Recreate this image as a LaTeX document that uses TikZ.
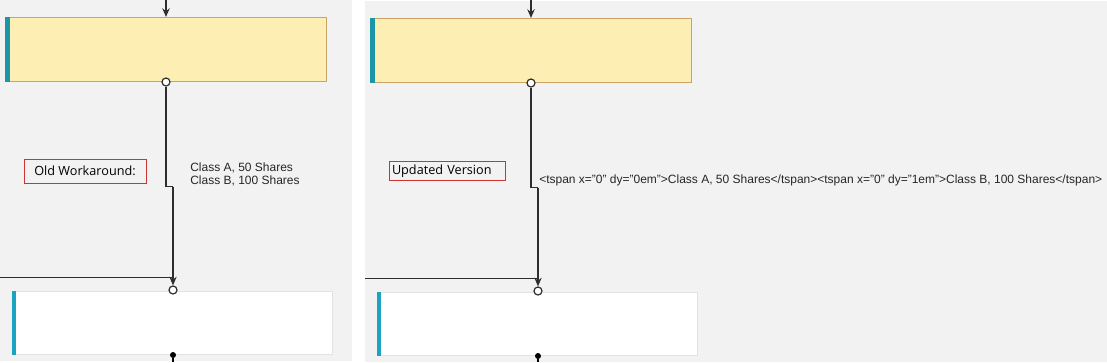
\documentclass[tikz,border=0pt]{standalone}
\usepackage{fontspec}
\setmainfont{Liberation Sans}
\newfontfamily\uifont{Open Sans}
\usetikzlibrary{arrows.meta}
\definecolor{bg}{HTML}{F2F2F2}
\definecolor{yfill}{HTML}{FDEFB4}
\definecolor{ybord}{HTML}{C9A464}
\definecolor{tealA}{HTML}{1A96A6}
\definecolor{tealB}{HTML}{1BA3C2}
\definecolor{wbord}{HTML}{E2E2E2}
\definecolor{lnc}{HTML}{2E2E2E}
\definecolor{redb}{HTML}{CC3333}
\tikzset{
  panel/.style={fill=bg, draw=none},
  ybox/.style={draw=ybord, fill=yfill, line width=0.75pt, minimum width={321*0.75pt}, minimum height={64*0.75pt}, inner sep=0pt},
  wbox/.style={draw=wbord, fill=white, line width=0.75pt, minimum width={320*0.75pt}, minimum height={63*0.75pt}, inner sep=0pt},
  port/.style={circle, draw=lnc, fill=white, line width=0.9pt, minimum size={8*0.75pt}, inner sep=0pt},
  conn/.style={draw=lnc, line width=1.3pt},
  arr/.style={conn, -{Stealth[length=6.5pt,width=5.5pt]}},
  note/.style={draw=redb, line width=0.75pt, fill=bg, inner sep=0pt, font=\uifont\fontsize{9.5}{11}\selectfont},
  lbl/.style={font=\fontsize{9}{9.2}\selectfont, inner sep=0pt, align=left, anchor=north west, text=black!85}
}
\begin{document}
\begin{tikzpicture}[x=0.75pt,y=-0.75pt]
\useasboundingbox (0,0) rectangle (1107,362);
\fill[white] (0,0) rectangle (1107,362);
% panels
\fill[panel] (0,0) rectangle (352,361);
\fill[panel] (365,1) rectangle (1107,362);

% ---------- left panel ----------
\node[ybox] (yl) at (165.5,49.5) {};
\fill[tealA] (yl.north west) rectangle ([xshift=3.75pt]yl.south west);
\node[wbox] (wl) at (172,322.5) {};
\fill[tealB] (wl.north west) rectangle ([xshift=3.5pt]wl.south west);
\coordinate (tl) at (166,0);
\draw[arr] (tl) -- (yl.north -| tl);
\node[port] (pl1) at (166,82) {};
\node[port] (pl2) at (173,290) {};
\coordinate (kl1) at (166,186.5);
\coordinate (kl2) at (173,186.5);
\draw[conn] (pl1.south) -- (kl1) -- (kl2);
\draw[arr] (kl2) -- (pl2.north);
\coordinate (hl) at (0,277.5);
\draw[conn] (hl) -- (hl -| kl2);
\node[circle, fill=black, minimum size={6*0.75pt}, inner sep=0pt] (dl) at (173,355) {};
\coordinate (dlb) at (173,362);
\draw[line width=1.5pt, black] (dl) -- (dlb);
\node[note, minimum width={122*0.75pt}, minimum height={24*0.75pt}] (nl) at (85,171) {Old Workaround:};
\node[lbl] (ll) at (190,163) {Class A, 50 Shares\\Class B, 100 Shares};

% ---------- right panel ----------
\node[ybox] (yr) at (530.5,50.5) {};
\fill[tealA] (yr.north west) rectangle ([xshift=3.75pt]yr.south west);
\node[wbox] (wr) at (537,323.5) {};
\fill[tealB] (wr.north west) rectangle ([xshift=3.5pt]wr.south west);
\coordinate (tr) at (531,0);
\draw[arr] (tr) -- (yr.north -| tr);
\node[port] (pr1) at (531,83) {};
\node[port] (pr2) at (538,291) {};
\coordinate (kr1) at (531,187.5);
\coordinate (kr2) at (538,187.5);
\draw[conn] (pr1.south) -- (kr1) -- (kr2);
\draw[arr] (kr2) -- (pr2.north);
\coordinate (hr) at (365,278.5);
\draw[conn] (hr) -- (hr -| kr2);
\node[circle, fill=black, minimum size={6*0.75pt}, inner sep=0pt] (dr) at (538,356) {};
\coordinate (drb) at (538,362);
\draw[line width=1.5pt, black] (dr) -- (drb);
\node[note, minimum width={116*0.75pt}, minimum height={19*0.75pt}, text width={110*0.75pt}, align=left, inner xsep={3*0.75pt}] (nr) at (447,171) {Updated Version};
\node[lbl, anchor=west] (lr) at (539,180) {<tspan x="0" dy="0em">Class A, 50 Shares</tspan><tspan x="0" dy="1em">Class B, 100 Shares</tspan>};
\end{tikzpicture}
\end{document}
